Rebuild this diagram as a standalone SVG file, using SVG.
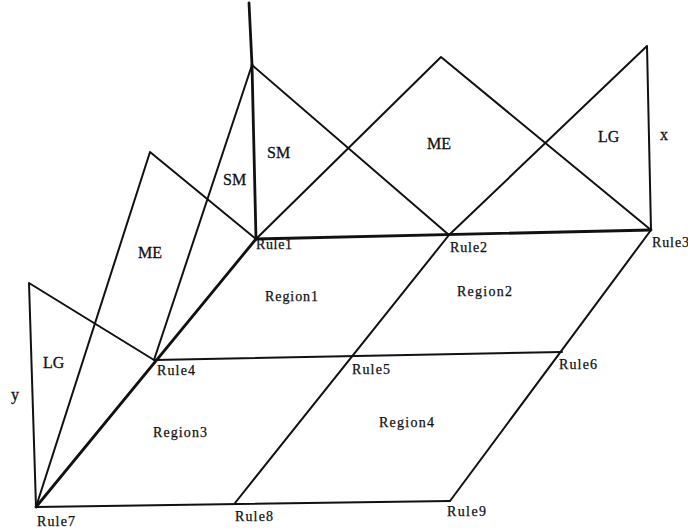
<svg xmlns="http://www.w3.org/2000/svg" width="688" height="532" viewBox="0 0 688 532">
<style>
.ln{stroke:#111;stroke-width:2;fill:none;stroke-linejoin:round;stroke-linecap:round}
.thk{stroke:#111;stroke-width:2.8;fill:none;stroke-linecap:round}
.rl{font-family:"Liberation Serif","Times New Roman",serif;font-size:14px;fill:#111;stroke:#111;stroke-width:0.25}
.rg{font-family:"Liberation Serif","Times New Roman",serif;font-size:14px;fill:#111;stroke:#111;stroke-width:0.25}
.mf{font-family:"Liberation Serif","Times New Roman",serif;font-size:16px;fill:#111;stroke:#111;stroke-width:0.3}
</style>
<rect width="688" height="532" fill="#fff"/>
<g id="connectors">
  <!-- membership axis -->
  <line class="thk" x1="249" y1="3" x2="252" y2="65"/>
  <line class="thk" x1="252" y1="65" x2="256" y2="239"/>
  <!-- x-direction membership functions -->
  <polyline class="ln" points="252,65 449,235"/>
  <polyline class="ln" points="256,239 441,57 651,230"/>
  <polyline class="ln" points="449,235 647,46 651,230"/>
  <!-- y-direction membership functions -->
  <polyline class="ln" points="252,65 154,360"/>
  <polyline class="ln" points="256,239 150,152 36,507"/>
  <polyline class="ln" points="154,360 29,283 36,507"/>
  <!-- grid -->
  <line class="thk" x1="256" y1="239" x2="651" y2="230"/>
  <line class="ln" x1="154" y1="360" x2="562" y2="352"/>
  <line class="ln" x1="36" y1="507" x2="450" y2="501"/>
  <line class="thk" x1="36" y1="507" x2="256" y2="239"/>
  <line class="ln" x1="235" y1="503" x2="449" y2="235"/>
  <line class="ln" x1="450" y1="501" x2="651" y2="230"/>
</g>
<g id="mf-x">
  <text class="mf" x="267" y="158">SM</text>
  <text class="mf" x="427" y="149">ME</text>
  <text class="mf" x="598" y="142">LG</text>
  <text class="mf" x="660" y="140">x</text>
</g>
<g id="mf-y">
  <text class="mf" x="223" y="185">SM</text>
  <text class="mf" x="138" y="258">ME</text>
  <text class="mf" x="43" y="368">LG</text>
  <text class="mf" x="11" y="400">y</text>
</g>
<g id="rule1"><text class="rl" x="256" y="249" textLength="36">Rule1</text></g>
<g id="rule2"><text class="rl" x="450" y="252" textLength="37">Rule2</text></g>
<g id="rule3"><text class="rl" x="652" y="247" textLength="37">Rule3</text></g>
<g id="rule4"><text class="rl" x="157" y="375" textLength="38">Rule4</text></g>
<g id="rule5"><text class="rl" x="352" y="374" textLength="38">Rule5</text></g>
<g id="rule6"><text class="rl" x="559" y="369" textLength="38">Rule6</text></g>
<g id="rule7"><text class="rl" x="37" y="526" textLength="38">Rule7</text></g>
<g id="rule8"><text class="rl" x="235" y="521" textLength="38">Rule8</text></g>
<g id="rule9"><text class="rl" x="447" y="516" textLength="39">Rule9</text></g>
<g id="region1"><text class="rg" x="265" y="301" textLength="53">Region1</text></g>
<g id="region2"><text class="rg" x="457" y="296" textLength="55">Region2</text></g>
<g id="region3"><text class="rg" x="153" y="437" textLength="54">Region3</text></g>
<g id="region4"><text class="rg" x="379" y="427" textLength="55">Region4</text></g>
</svg>
